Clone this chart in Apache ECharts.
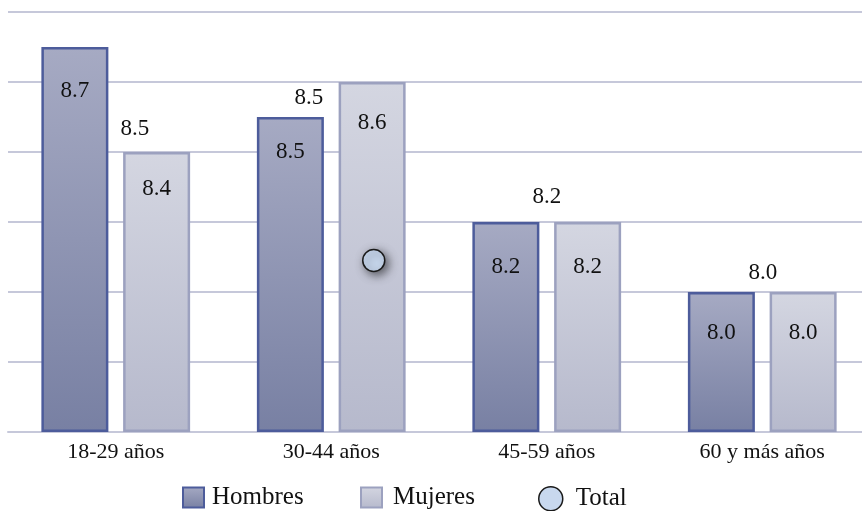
<!DOCTYPE html>
<html>
<head>
<meta charset="utf-8">
<script src="https://cdn.jsdelivr.net/npm/echarts@6/dist/echarts.min.js"></script>
<style>
  html, body { margin: 0; padding: 0; background: #ffffff; }
  #chart { width: 862px; height: 511px; }
</style>
</head>
<body>
<div id="chart"></div>
<script>
// Age groups and average scores
const categories = ['18-29 años', '30-44 años', '45-59 años', '60 y más años'];
const hombres = [8.7, 8.5, 8.2, 8.0];
const mujeres = [8.4, 8.6, 8.2, 8.0];
const total = [8.5, 8.5, 8.2, 8.0];
// Stray "Total" marker point (category, value)
const totalMarker = ['30-44 años', 8.09];

// Axis range
const yMin = 7.6, yMax = 8.8, yStep = 0.2;

// Label nudges (pixels), kept apart from the values
const hombresLabelDy = [44, 35, 45, 41];
const mujeresLabelDy = [37, 41, 45, 41];
const totalLabelOffset = [[19, 11.5], [-22.5, -19.5], [0, -25.5], [0.5, -19]];

const FONT = "'Liberation Serif', 'DejaVu Serif', serif";
const TEXT = '#111111';
const GRID_LINE = '#c6c8da';

function vgrad(top, bottom) {
  return new echarts.graphic.LinearGradient(0, 0, 0, 1, [
    { offset: 0, color: top },
    { offset: 1, color: bottom }
  ]);
}

function barData(values, dys) {
  return values.map((v, i) => ({
    value: v,
    label: { position: ['50%', dys[i]] }
  }));
}

const chart = echarts.init(document.getElementById('chart'), null, { renderer: 'canvas' });

const legendBase = {
  orient: 'horizontal',
  top: 485,
  padding: 0,
  itemHeight: 20,
  itemWidth: 21,
  selectedMode: false,
  textStyle: { fontFamily: FONT, fontSize: 25, color: TEXT }
};

chart.setOption({
  animation: false,
  backgroundColor: '#ffffff',
  grid: { left: 8, right: -8, top: 12, bottom: 79, outerBoundsMode: 'none', containLabel: false },
  legend: [
    Object.assign({}, legendBase, {
      left: 182,
      icon: 'rect',
      data: ['Hombres'],
      textStyle: Object.assign({}, legendBase.textStyle, { padding: [0, 0, 0, 3] })
    }),
    Object.assign({}, legendBase, {
      left: 360,
      icon: 'rect',
      data: ['Mujeres'],
      textStyle: Object.assign({}, legendBase.textStyle, { padding: [0, 0, 0, 6] })
    }),
    Object.assign({}, legendBase, {
      left: 538,
      itemWidth: 24,
      itemHeight: 24,
      top: 486,
      data: [{
        name: 'Total',
        icon: 'circle',
        itemStyle: { color: '#c8d8ee', borderColor: '#1a1a1a', borderWidth: 1.5, opacity: 1 }
      }],
      textStyle: Object.assign({}, legendBase.textStyle, { padding: [0, 0, 0, 8] })
    })
  ],
  xAxis: {
    type: 'category',
    data: categories,
    boundaryGap: true,
    axisTick: { show: false },
    axisLine: { show: true, lineStyle: { color: GRID_LINE, width: 2 } },
    axisLabel: { fontFamily: FONT, fontSize: 22, color: TEXT, margin: 9 },
    splitLine: { show: false }
  },
  yAxis: {
    type: 'value',
    min: yMin,
    max: yMax,
    interval: yStep,
    startValue: yMin,
    axisLine: { show: false },
    axisTick: { show: false },
    axisLabel: { show: false },
    splitLine: { show: true, lineStyle: { color: GRID_LINE, width: 2 } }
  },
  series: [
    {
      name: 'Hombres',
      type: 'bar',
      barWidth: 67,
      barGap: '22%',
      data: barData(hombres, hombresLabelDy),
      itemStyle: {
        color: vgrad('#a6aac3', '#7880a3'),
        borderColor: '#4d5c9b',
        borderWidth: 2.5
      },
      label: {
        show: true,
        align: 'center',
        verticalAlign: 'middle',
        fontFamily: FONT,
        fontSize: 23,
        color: TEXT,
        formatter: p => p.value.toFixed(1)
      }
    },
    {
      name: 'Mujeres',
      type: 'bar',
      barWidth: 67,
      barGap: '22%',
      data: barData(mujeres, mujeresLabelDy),
      itemStyle: {
        color: vgrad('#d4d6e1', '#b6b9cc'),
        borderColor: '#9ca1bf',
        borderWidth: 2.5
      },
      label: {
        show: true,
        align: 'center',
        verticalAlign: 'middle',
        fontFamily: FONT,
        fontSize: 23,
        color: TEXT,
        formatter: p => p.value.toFixed(1)
      }
    },
    {
      name: 'Total',
      type: 'scatter',
      symbol: 'circle',
      symbolSize: 1,
      z: 5,
      itemStyle: { color: 'rgba(0,0,0,0)', opacity: 1 },
      data: total.map((v, i) => ({
        value: v,
        label: { offset: totalLabelOffset[i] }
      })),
      label: {
        show: true,
        position: 'inside',
        align: 'center',
        verticalAlign: 'middle',
        fontFamily: FONT,
        fontSize: 23,
        color: TEXT,
        opacity: 1,
        textBorderWidth: 0,
        formatter: p => p.value.toFixed(1)
      },
      markPoint: {
        symbol: 'circle',
        symbolSize: 22,
        symbolOffset: [42.5, 0],
        label: { show: false },
        itemStyle: {
          color: '#c8d8ee',
          borderColor: '#1a1a1a',
          borderWidth: 1.5,
          opacity: 1,
          shadowBlur: 10,
          shadowColor: 'rgba(0,0,0,0.55)',
          shadowOffsetX: 3,
          shadowOffsetY: 3
        },
        data: [{ coord: totalMarker }]
      }
    }
  ]
});
</script>
</body>
</html>
